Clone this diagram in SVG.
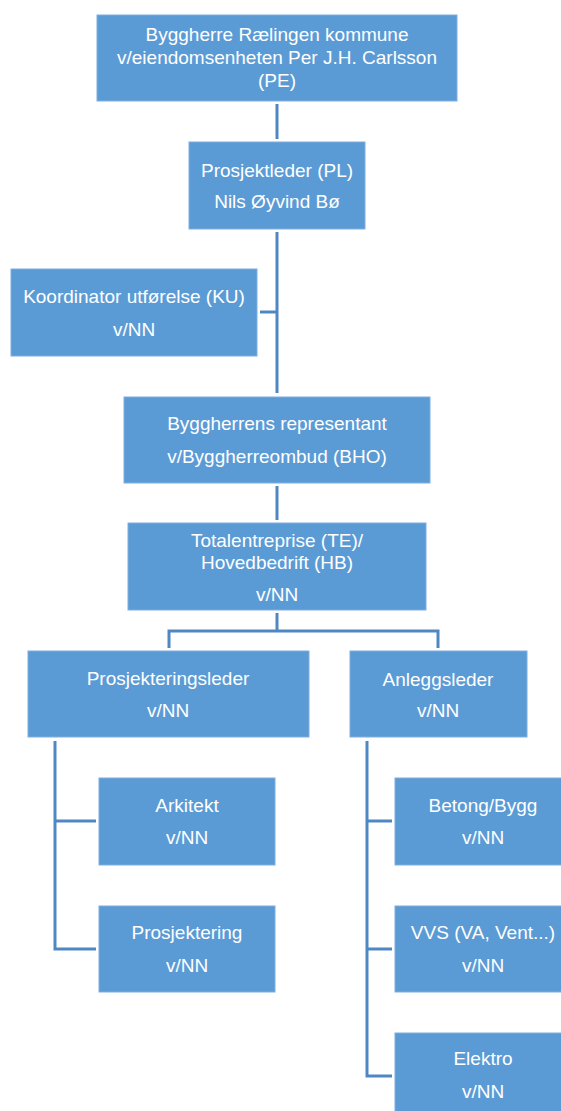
<svg xmlns="http://www.w3.org/2000/svg" width="561" height="1111" viewBox="0 0 561 1111">
<style>
.box{fill:#5B9BD5;stroke:#7FAEDF;stroke-width:1}
.t{font-family:"Liberation Sans",Arial,sans-serif;font-size:19px;fill:#FFFFFF;text-anchor:middle}
.c{fill:none;stroke:#4F87C3;stroke-width:3}
</style>
<rect width="561" height="1111" fill="#FFFFFF"/>
<g id="connectors">
<path class="c" d="M277,104 V139"/>
<path class="c" d="M277,232 V393"/>
<path class="c" d="M260,312 H277"/>
<path class="c" d="M277,486 V520"/>
<path class="c" d="M277,613 V631"/>
<path class="c" d="M169,648 V631 H438 V648"/>
<path class="c" d="M55,741 V949 H96"/>
<path class="c" d="M55,821 H96"/>
<path class="c" d="M367,741 V1076 H392"/>
<path class="c" d="M367,821 H392"/>
<path class="c" d="M367,949 H392"/>
</g>
<g id="n-pe">
<rect class="box" x="97" y="15" width="360" height="86"/>
<text class="t" x="277" y="41">Byggherre Rælingen kommune</text>
<text class="t" x="277" y="64">v/eiendomsenheten Per J.H. Carlsson</text>
<text class="t" x="277" y="87">(PE)</text>
</g>
<g id="n-pl">
<rect class="box" x="189" y="142" width="176" height="87"/>
<text class="t" x="277" y="177">Prosjektleder (PL)</text>
<text class="t" x="277" y="208">Nils Øyvind Bø</text>
</g>
<g id="n-ku">
<rect class="box" x="11" y="269" width="246" height="87"/>
<text class="t" x="134" y="303">Koordinator utførelse (KU)</text>
<text class="t" x="134" y="336">v/NN</text>
</g>
<g id="n-bho">
<rect class="box" x="124" y="397" width="306" height="86"/>
<text class="t" x="277" y="430">Byggherrens representant</text>
<text class="t" x="277" y="463">v/Byggherreombud (BHO)</text>
</g>
<g id="n-te">
<rect class="box" x="128" y="523" width="298" height="87"/>
<text class="t" x="277" y="547">Totalentreprise (TE)/</text>
<text class="t" x="277" y="569">Hovedbedrift (HB)</text>
<text class="t" x="277" y="601">v/NN</text>
</g>
<g id="n-pleder">
<rect class="box" x="28" y="651" width="281" height="86"/>
<text class="t" x="168" y="685">Prosjekteringsleder</text>
<text class="t" x="168" y="717">v/NN</text>
</g>
<g id="n-aleder">
<rect class="box" x="350" y="651" width="177" height="86"/>
<text class="t" x="438" y="686">Anleggsleder</text>
<text class="t" x="438" y="717">v/NN</text>
</g>
<g id="n-ark">
<rect class="box" x="99" y="778" width="176" height="87"/>
<text class="t" x="187" y="812">Arkitekt</text>
<text class="t" x="187" y="844">v/NN</text>
</g>
<g id="n-prosj">
<rect class="box" x="99" y="906" width="176" height="86"/>
<text class="t" x="187" y="939">Prosjektering</text>
<text class="t" x="187" y="972">v/NN</text>
</g>
<g id="n-betong">
<rect class="box" x="395" y="778" width="176" height="87"/>
<text class="t" x="483" y="812">Betong/Bygg</text>
<text class="t" x="483" y="844">v/NN</text>
</g>
<g id="n-vvs">
<rect class="box" x="395" y="906" width="176" height="86"/>
<text class="t" x="483" y="939">VVS (VA, Vent...)</text>
<text class="t" x="483" y="972">v/NN</text>
</g>
<g id="n-elektro">
<rect class="box" x="395" y="1033" width="176" height="86"/>
<text class="t" x="483" y="1065">Elektro</text>
<text class="t" x="483" y="1098">v/NN</text>
</g>
</svg>
